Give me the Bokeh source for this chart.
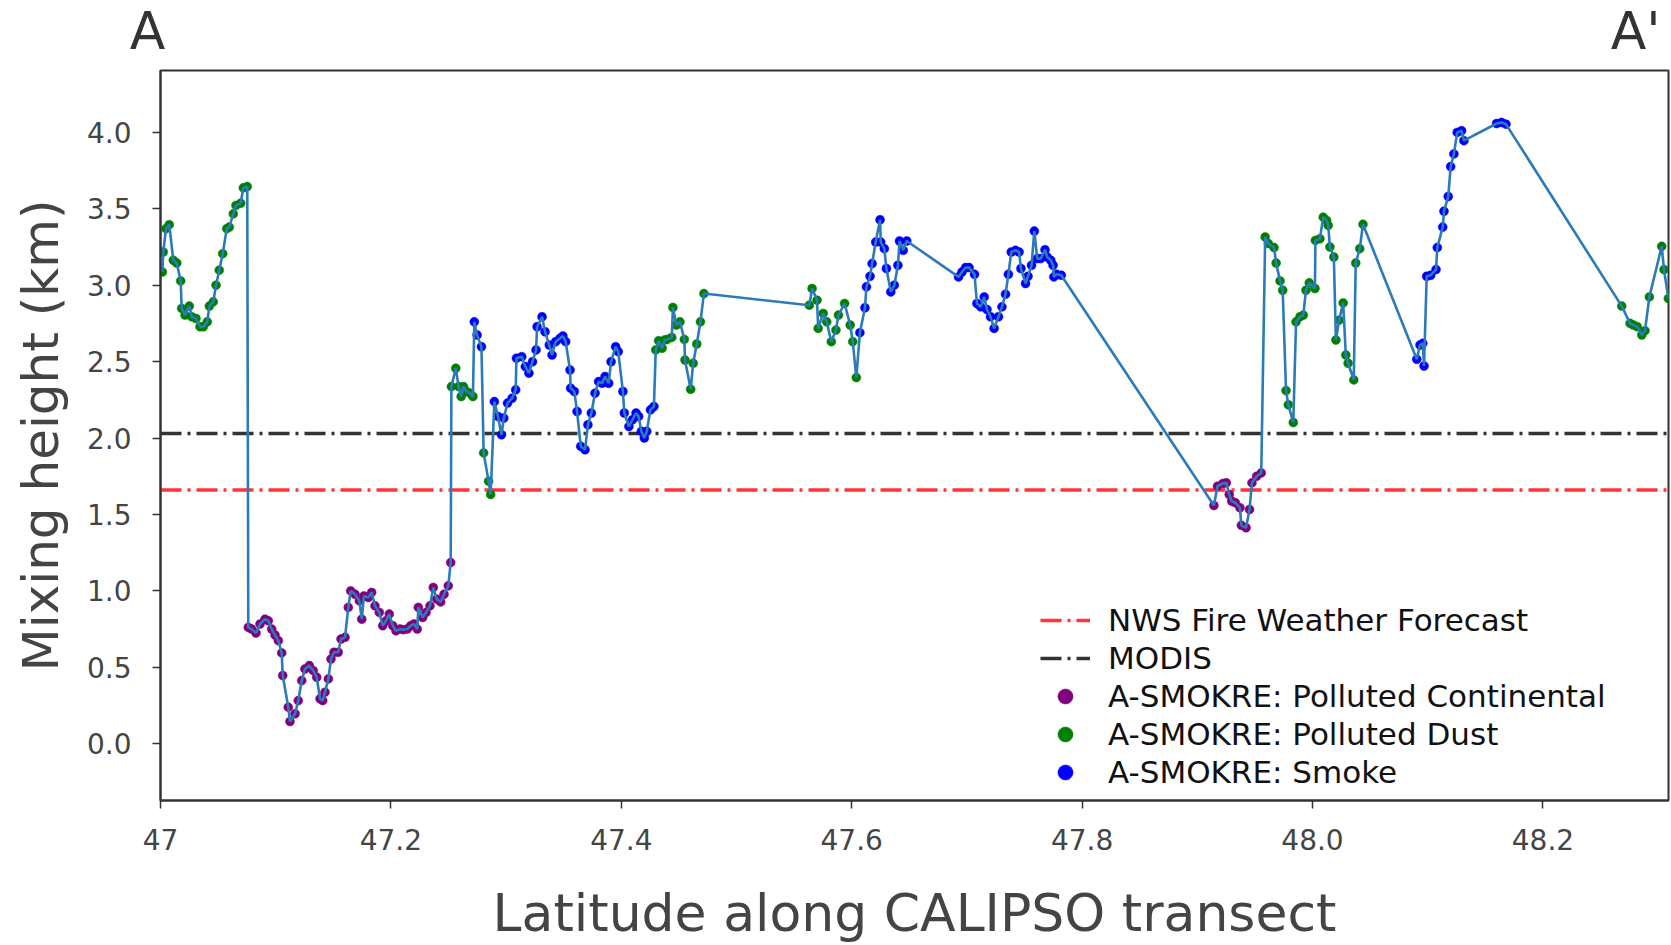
from bokeh.plotting import figure
from bokeh.layouts import column
from bokeh.models import (Range1d, FixedTicker, CustomJSTickFormatter, Legend,
                          LegendItem)
from bokeh.core.properties import value
from bokeh.embed import file_html
from bokeh.resources import INLINE

# --- mixing height retrievals along the transect, grouped by aerosol type ---
continental_lat = [
    47.0762, 47.0792, 47.0829, 47.0864, 47.0907, 47.0936, 47.0965, 47.0994, 47.1023, 47.1052,
    47.1061, 47.1109, 47.1124, 47.1168, 47.1196, 47.1226, 47.1254, 47.1292, 47.1326, 47.1356,
    47.1385, 47.1408, 47.1428, 47.1457, 47.1480, 47.1506, 47.1543, 47.1567, 47.1602, 47.1630,
    47.1651, 47.1688, 47.1726, 47.1747, 47.1766, 47.1804, 47.1833, 47.1862, 47.1899, 47.1929,
    47.1957, 47.1986, 47.2016, 47.2044, 47.2079, 47.2108, 47.2142, 47.2172, 47.2200, 47.2229,
    47.2238, 47.2276, 47.2305, 47.2339, 47.2368, 47.2398, 47.2432, 47.2461, 47.2498, 47.2519,
    47.9144, 47.9175, 47.9222, 47.9252, 47.9277, 47.9299, 47.9330, 47.9370, 47.9382, 47.9423,
    47.9453, 47.9474, 47.9515, 47.9555,
]
continental_height = [
    0.761, 0.750, 0.724, 0.783, 0.815, 0.804, 0.750, 0.711, 0.674, 0.594,
    0.446, 0.239, 0.145, 0.196, 0.282, 0.413, 0.489, 0.511, 0.478, 0.435,
    0.294, 0.282, 0.337, 0.424, 0.554, 0.598, 0.598, 0.685, 0.696, 0.892,
    1.000, 0.978, 0.935, 0.815, 0.967, 0.957, 0.990, 0.902, 0.859, 0.772,
    0.804, 0.848, 0.772, 0.739, 0.750, 0.746, 0.750, 0.772, 0.783, 0.750,
    0.892, 0.826, 0.859, 0.902, 1.022, 0.946, 0.928, 0.978, 1.033, 1.185,
    1.559, 1.685, 1.703, 1.707, 1.631, 1.587, 1.577, 1.544, 1.429, 1.413,
    1.533, 1.707, 1.750, 1.772,
]

dust_lat = [
    47.0016, 47.0024, 47.0048, 47.0076, 47.0111, 47.0141, 47.0175, 47.0184, 47.0213, 47.0250,
    47.0271, 47.0308, 47.0343, 47.0372, 47.0406, 47.0424, 47.0458, 47.0482, 47.0510, 47.0540,
    47.0575, 47.0597, 47.0632, 47.0655, 47.0696, 47.0719, 47.0753,
    47.2525, 47.2563, 47.2588, 47.2610, 47.2630, 47.2655, 47.2687, 47.2712,
    47.2805, 47.2848, 47.2866,
    47.4299, 47.4324, 47.4354, 47.4376, 47.4398, 47.4438, 47.4448, 47.4478, 47.4509, 47.4547,
    47.4553, 47.4602, 47.4624, 47.4655, 47.4687, 47.4717,
    47.5632, 47.5656, 47.5699, 47.5709, 47.5752, 47.5783, 47.5823, 47.5863, 47.5885, 47.5938,
    47.5987, 47.6009, 47.6040,
    47.9589, 47.9617, 47.9666, 47.9684, 47.9718, 47.9741, 47.9770, 47.9790, 47.9833, 47.9857,
    47.9891, 47.9920, 47.9943, 47.9972, 48.0021, 48.0025, 48.0064, 48.0093, 48.0122, 48.0136,
    48.0151, 48.0185, 48.0203, 48.0231, 48.0266, 48.0289, 48.0309, 48.0358, 48.0375, 48.0410,
    48.0438,
    48.2684, 48.2756, 48.2785, 48.2819, 48.2858, 48.2886, 48.2924, 48.3031, 48.3051, 48.3089,
]
dust_height = [
    3.087, 3.218, 3.371, 3.397, 3.164, 3.146, 3.029, 2.849, 2.805, 2.864,
    2.794, 2.783, 2.729, 2.729, 2.761, 2.864, 2.892, 3.001, 3.099, 3.207,
    3.371, 3.381, 3.468, 3.523, 3.537, 3.638, 3.646,
    2.337, 2.457, 2.337, 2.272, 2.337, 2.305, 2.294, 2.272,
    1.903, 1.718, 1.631,
    2.577, 2.637, 2.588, 2.642, 2.646, 2.659, 2.855, 2.740, 2.761, 2.646,
    2.511, 2.320, 2.490, 2.616, 2.761, 2.946,
    2.870, 2.979, 2.903, 2.718, 2.816, 2.761, 2.631, 2.707, 2.805, 2.881,
    2.740, 2.631, 2.396,
    3.316, 3.273, 3.247, 3.146, 3.029, 2.968, 2.311, 2.218, 2.102, 2.761,
    2.794, 2.805, 2.968, 3.016, 2.979, 3.294, 3.305, 3.446, 3.425, 3.392,
    3.251, 3.185, 2.642, 2.772, 2.885, 2.544, 2.490, 2.381, 3.146, 3.240,
    3.399,
    2.864, 2.751, 2.740, 2.729, 2.675, 2.703, 2.924, 3.255, 3.103, 2.914,
]

smoke_lat = [
    47.2724, 47.2748, 47.2786,
    47.2898, 47.2929, 47.2960, 47.2980, 47.3012, 47.3052, 47.3083, 47.3090, 47.3136, 47.3167,
    47.3198, 47.3229, 47.3260, 47.3269, 47.3312, 47.3338, 47.3375, 47.3399, 47.3430, 47.3468,
    47.3493, 47.3517, 47.3555, 47.3560, 47.3592, 47.3616, 47.3648, 47.3685, 47.3710, 47.3740,
    47.3772, 47.3803, 47.3833, 47.3859, 47.3890, 47.3911, 47.3951, 47.3973, 47.4014, 47.4026,
    47.4066, 47.4097, 47.4128, 47.4150, 47.4174, 47.4200, 47.4221, 47.4253, 47.4283,
    47.6071, 47.6115, 47.6128, 47.6159, 47.6177, 47.6208, 47.6246, 47.6252, 47.6283, 47.6301,
    47.6339, 47.6370, 47.6401, 47.6415, 47.6447, 47.6478,
    47.6927, 47.6957, 47.6988, 47.7019, 47.7066, 47.7087, 47.7119, 47.7150, 47.7174, 47.7205,
    47.7236, 47.7274, 47.7304, 47.7335, 47.7360, 47.7385, 47.7422, 47.7453, 47.7469, 47.7509,
    47.7530, 47.7561, 47.7585, 47.7610, 47.7641, 47.7678, 47.7697, 47.7728, 47.7748, 47.7755,
    47.7778, 47.7819,
    48.0905, 48.0933, 48.0957, 48.0968, 48.0991, 48.1026, 48.1072, 48.1083, 48.1130, 48.1141,
    48.1178, 48.1199, 48.1227, 48.1256, 48.1294, 48.1314, 48.1598, 48.1641, 48.1679,
]
smoke_height = [
    2.761, 2.675, 2.598,
    2.239, 2.142, 2.022, 2.131, 2.229, 2.261, 2.316, 2.523, 2.533, 2.468,
    2.425, 2.500, 2.577, 2.729, 2.794, 2.696, 2.609, 2.544, 2.631, 2.653,
    2.668, 2.631, 2.446, 2.327, 2.305, 2.174, 1.946, 1.924, 2.087, 2.164,
    2.294, 2.370, 2.359, 2.403, 2.359, 2.500, 2.598, 2.566, 2.305, 2.164,
    2.076, 2.120, 2.164, 2.142, 2.044, 2.001, 2.044, 2.185, 2.207,
    2.690, 2.853, 2.990, 3.059, 3.142, 3.283, 3.429, 3.283, 3.240, 3.110,
    2.957, 3.001, 3.131, 3.290, 3.229, 3.290,
    3.055, 3.087, 3.116, 3.116, 3.072, 2.881, 2.859, 2.924, 2.842, 2.794,
    2.718, 2.794, 2.859, 2.942, 3.072, 3.218, 3.229, 3.218, 3.110, 3.012,
    3.059, 3.131, 3.355, 3.175, 3.175, 3.233, 3.185, 3.164, 3.131, 3.055,
    3.072, 3.066,
    2.516, 2.609, 2.620, 2.472, 3.059, 3.066, 3.103, 3.247, 3.381, 3.485,
    3.581, 3.777, 3.860, 4.001, 4.012, 3.947, 4.059, 4.066, 4.055,
]

# reference mixing heights (km)
nws_forecast_height = 1.66
modis_height = 2.03

# axis ticks and their labels
x_ticks = [47.0, 47.2, 47.4, 47.6, 47.8, 48.0, 48.2]
x_tick_labels = ["47", "47.2", "47.4", "47.6", "47.8", "48.0", "48.2"]
y_ticks = [0.0, 0.5, 1.0, 1.5, 2.0, 2.5, 3.0, 3.5, 4.0]
y_tick_labels = ["0.0", "0.5", "1.0", "1.5", "2.0", "2.5", "3.0", "3.5", "4.0"]

# section end names
section_ends = ["A", "A'"]

X_LO, X_HI = 47.0, 48.309
Y_LO, Y_HI = -0.372, 4.406

FONT = "DejaVu Sans"
TEXT_GREY = "#444444"
WIDTH = 1671
HEADER_H = 68
BORDER_LEFT, BORDER_RIGHT = 160, 3

p = figure(width=WIDTH, height=945 - HEADER_H, output_backend="svg", toolbar_location=None,
           x_range=Range1d(X_LO, X_HI), y_range=Range1d(Y_LO, Y_HI),
           min_border_left=BORDER_LEFT, min_border_right=BORDER_RIGHT, min_border_top=2,
           min_border_bottom=143, frame_align=False)
p.background_fill_color = "white"
p.border_fill_color = "white"
p.outline_line_color = "#333333"
p.outline_line_width = 2
p.xgrid.visible = False
p.ygrid.visible = False

# look a tick value up in its label list
label_code = ("const i = tick_values.findIndex(t => Math.abs(t - tick) < 1e-6);"
              "return i >= 0 ? tick_texts[i] : '';")
p.xaxis.ticker = FixedTicker(ticks=x_ticks)
p.xaxis.formatter = CustomJSTickFormatter(
    args=dict(tick_values=x_ticks, tick_texts=x_tick_labels), code=label_code)
p.yaxis.ticker = FixedTicker(ticks=y_ticks)
p.yaxis.formatter = CustomJSTickFormatter(
    args=dict(tick_values=y_ticks, tick_texts=y_tick_labels), code=label_code)

for ax in (p.xaxis[0], p.yaxis[0]):
    ax.axis_line_color = "#333333"
    ax.axis_line_width = 2
    ax.major_tick_line_color = "#333333"
    ax.major_tick_line_width = 1.5
    ax.major_tick_in = 0
    ax.major_tick_out = 8
    ax.minor_tick_line_color = None
    ax.major_label_text_font = FONT
    ax.major_label_text_font_size = "28px"
    ax.major_label_text_color = TEXT_GREY
    ax.axis_label_text_font = FONT
    ax.axis_label_text_font_style = "normal"
    ax.axis_label_text_color = TEXT_GREY

p.xaxis.axis_label = "Latitude along CALIPSO transect"
p.xaxis.axis_label_text_font_size = "52px"
p.xaxis.major_label_standoff = 20
p.xaxis.axis_label_standoff = 30

p.yaxis.axis_label = "Mixing height (km)"
p.yaxis.axis_label_text_font_size = "50px"
p.yaxis.major_label_standoff = 21
p.yaxis.axis_label_standoff = 14

# horizontal reference levels
nws_line = p.line([X_LO, X_HI], [nws_forecast_height, nws_forecast_height],
                  line_color="#ff3535", line_width=3.5, line_dash="21 6 3 6")
modis_line = p.line([X_LO, X_HI], [modis_height, modis_height],
                    line_color="#333333", line_width=3.5, line_dash="21 6 3 6")

# retrieval points coloured by aerosol type
marker_style = dict(size=9, line_width=1, line_alpha=0.45)
cont_r = p.scatter(continental_lat, continental_height, fill_color="#800080",
                   line_color="#800080", **marker_style)
dust_r = p.scatter(dust_lat, dust_height, fill_color="#008000",
                   line_color="#008000", **marker_style)
smoke_r = p.scatter(smoke_lat, smoke_height, fill_color="#0000ff",
                    line_color="#0000ff", **marker_style)

# the transect trace joins every retrieval in latitude order
transect = sorted(zip(continental_lat + dust_lat + smoke_lat,
                      continental_height + dust_height + smoke_height))
p.line([t[0] for t in transect], [t[1] for t in transect],
       line_color="#2b7bb9", line_width=2.6)

legend = Legend(items=[
    LegendItem(label="NWS Fire Weather Forecast", renderers=[nws_line]),
    LegendItem(label="MODIS", renderers=[modis_line]),
    LegendItem(label="A-SMOKRE: Polluted Continental", renderers=[cont_r]),
    LegendItem(label="A-SMOKRE: Polluted Dust", renderers=[dust_r]),
    LegendItem(label="A-SMOKRE: Smoke", renderers=[smoke_r]),
], location=(872, 1))
legend.label_text_font = FONT
legend.label_text_font_size = "31px"
legend.label_text_color = "#111111"
legend.glyph_width = 50
legend.glyph_height = 38
legend.label_height = 38
legend.label_standoff = 18
legend.spacing = 0
legend.padding = 8
legend.margin = 0
legend.border_line_alpha = 0.0
legend.background_fill_color = "white"
legend.background_fill_alpha = 1.0
p.add_layout(legend)

# header strip naming the two ends of the section, on the plot's latitude scale
px_per_deg = (WIDTH - BORDER_LEFT - BORDER_RIGHT) / (X_HI - X_LO)
header = figure(width=WIDTH, height=HEADER_H, output_backend="svg", toolbar_location=None,
                x_range=Range1d(X_LO - BORDER_LEFT / px_per_deg, X_HI + BORDER_RIGHT / px_per_deg),
                y_range=Range1d(0, HEADER_H), min_border=0, frame_align=False)
header.axis.visible = False
header.xgrid.visible = False
header.ygrid.visible = False
header.outline_line_color = None
header.background_fill_color = "white"
header.border_fill_color = "white"
header.text(x=[X_LO, X_HI], y=[HEADER_H - 48, HEADER_H - 48], text=section_ends,
            x_offset=[-13, -8], y_offset=-18, text_align=["center", "right"],
            text_baseline="alphabetic", text_font=value(FONT), text_font_size="52px",
            text_color="#333333")

open("out.html", "w").write(file_html(column(header, p, spacing=0), INLINE))
